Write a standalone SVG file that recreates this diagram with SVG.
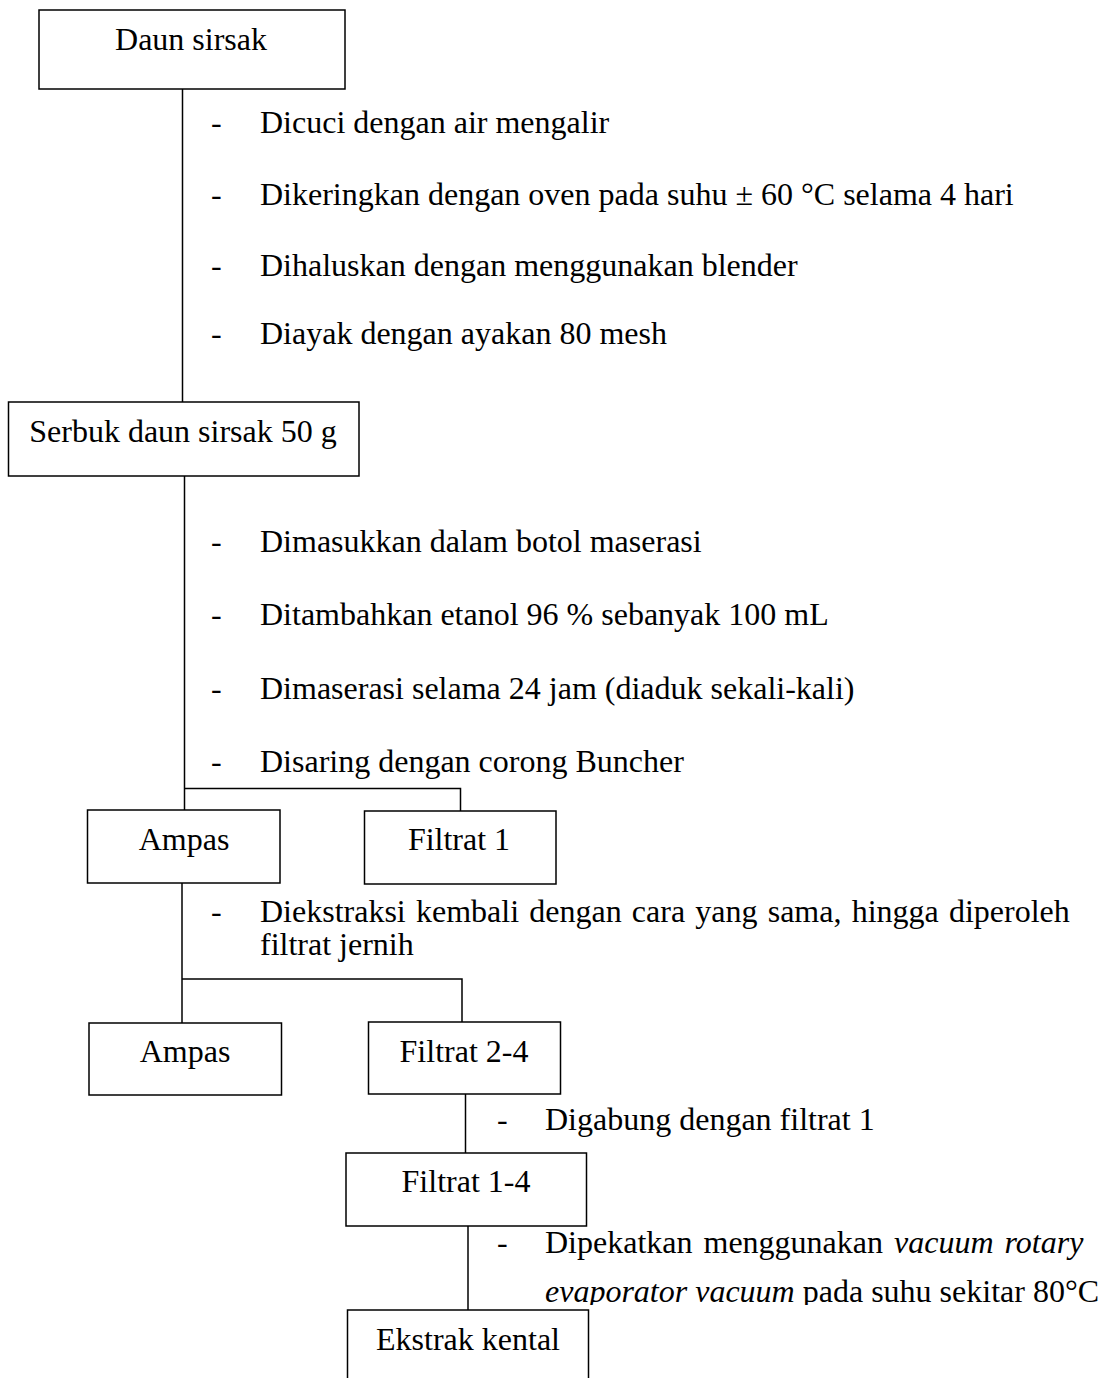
<svg xmlns="http://www.w3.org/2000/svg" width="1109" height="1378" viewBox="0 0 1109 1378">
  <style>
    .box { fill: #ffffff; stroke: #000000; stroke-width: 1.5; }
    .wire { fill: none; stroke: #000000; stroke-width: 1.5; }
    text { font-family: "Liberation Serif", "Times New Roman", serif; font-size: 32px; fill: #000000; }
    .mid { text-anchor: middle; }
    .it { font-style: italic; }
  </style>
  <defs>
    <clipPath id="lastLineClip">
      <rect x="0" y="0" width="1109" height="1305"/>
    </clipPath>
  </defs>
  <rect x="0" y="0" width="1109" height="1378" fill="#ffffff"/>

  <!-- connectors -->
  <g id="connectors">
    <path class="wire" d="M182.5 89 V402"/>
    <path class="wire" d="M184.5 476 V810"/>
    <path class="wire" d="M184.5 788.5 H460.5 V811"/>
    <path class="wire" d="M182 883 V1023"/>
    <path class="wire" d="M182 979 H462 V1022"/>
    <path class="wire" d="M465.5 1094 V1153"/>
    <path class="wire" d="M468 1226 V1310"/>
  </g>

  <!-- process steps -->
  <g id="steps-drying">
    <text x="211" y="133">-</text><text x="260" y="133">Dicuci dengan air mengalir</text>
    <text x="211" y="205">-</text><text x="260" y="205">Dikeringkan dengan oven pada suhu ± 60 °C selama 4 hari</text>
    <text x="211" y="276">-</text><text x="260" y="276">Dihaluskan dengan menggunakan blender</text>
    <text x="211" y="344">-</text><text x="260" y="344">Diayak dengan ayakan 80 mesh</text>
  </g>
  <g id="steps-maceration">
    <text x="211" y="552">-</text><text x="260" y="552">Dimasukkan dalam botol maserasi</text>
    <text x="211" y="625">-</text><text x="260" y="625">Ditambahkan etanol 96 % sebanyak 100 mL</text>
    <text x="211" y="699">-</text><text x="260" y="699">Dimaserasi selama 24 jam (diaduk sekali-kali)</text>
    <text x="211" y="772">-</text><text x="260" y="772">Disaring dengan corong Buncher</text>
  </g>
  <g id="steps-reextraction">
    <text x="211" y="922">-</text><text x="260" y="922" word-spacing="2.2">Diekstraksi kembali dengan cara yang sama, hingga diperoleh</text>
    <text x="260" y="955">filtrat jernih</text>
  </g>
  <g id="steps-combine">
    <text x="497" y="1130">-</text><text x="545" y="1130">Digabung dengan filtrat 1</text>
  </g>
  <g id="steps-evaporation">
    <text x="497" y="1253">-</text><text x="545" y="1253" word-spacing="3">Dipekatkan menggunakan <tspan class="it">vacuum rotary</tspan></text>
    <text x="545" y="1302" clip-path="url(#lastLineClip)"><tspan class="it">evaporator vacuum</tspan> pada suhu sekitar 80°C</text>
  </g>

  <!-- nodes -->
  <g id="node-daun-sirsak">
    <rect class="box" x="39" y="10" width="306" height="79"/>
    <text class="mid" x="191" y="50">Daun sirsak</text>
  </g>
  <g id="node-serbuk">
    <rect class="box" x="8.5" y="402" width="350.5" height="74"/>
    <text class="mid" x="183" y="442">Serbuk daun sirsak 50 g</text>
  </g>
  <g id="node-ampas-1">
    <rect class="box" x="87.5" y="810" width="192.5" height="73"/>
    <text class="mid" x="184" y="850">Ampas</text>
  </g>
  <g id="node-filtrat-1">
    <rect class="box" x="364.5" y="811" width="191.5" height="73"/>
    <text class="mid" x="459" y="850">Filtrat 1</text>
  </g>
  <g id="node-ampas-2">
    <rect class="box" x="89" y="1023" width="192.5" height="72"/>
    <text class="mid" x="185" y="1062">Ampas</text>
  </g>
  <g id="node-filtrat-2-4">
    <rect class="box" x="368.5" y="1022" width="192" height="72"/>
    <text class="mid" x="464" y="1062">Filtrat 2-4</text>
  </g>
  <g id="node-filtrat-1-4">
    <rect class="box" x="346" y="1153" width="240.5" height="73"/>
    <text class="mid" x="466" y="1192">Filtrat 1-4</text>
  </g>
  <g id="node-ekstrak-kental">
    <rect class="box" x="347.5" y="1310" width="241" height="100"/>
    <text class="mid" x="468" y="1350">Ekstrak kental</text>
  </g>
</svg>
